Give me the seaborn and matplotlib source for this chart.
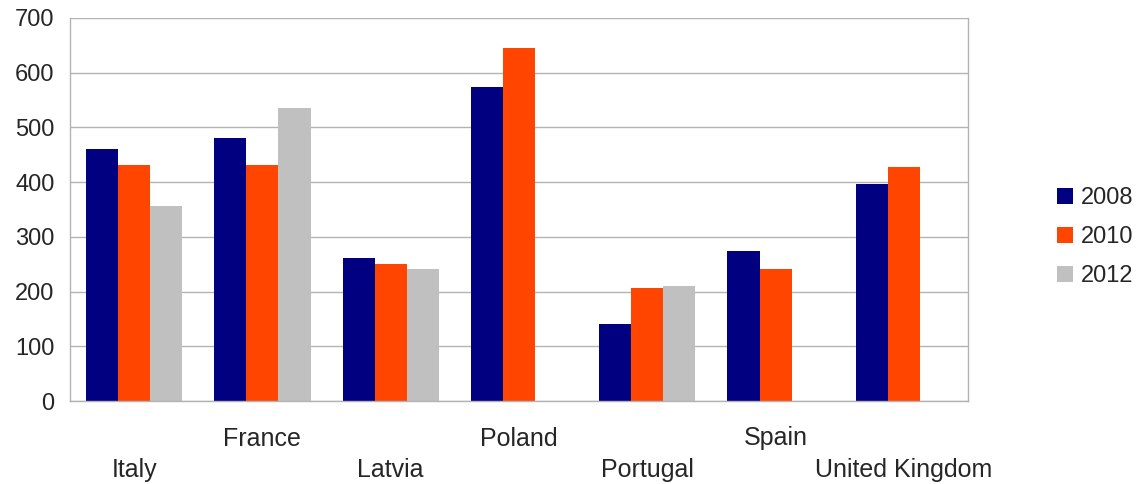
import pandas as pd
import matplotlib
matplotlib.use("Agg")
import matplotlib.pyplot as plt
import seaborn as sns
import numpy as np

countries = ["Italy", "France", "Latvia", "Poland", "Portugal", "Spain", "United Kingdom"]
years = ["2008", "2010", "2012"]
v2008 = [461, 481, 262, 573, 140, 275, 396]
v2010 = [432, 432, 251, 646, 207, 242, 427]
v2012 = [357, 536, 242, np.nan, 211, np.nan, np.nan]

colors = ["#000080", "#FF4500", "#C0C0C0"]
grid_col = "#b3b3b3"

df = pd.DataFrame({"country": countries, "2008": v2008, "2010": v2010, "2012": v2012})
df = df.melt(id_vars="country", var_name="year", value_name="value")

sns.set_style("white")
plt.rcParams['font.family'] = ['Liberation Sans', 'DejaVu Sans']

fig = plt.figure(figsize=(11.42, 4.84), dpi=100)
ax = fig.add_axes([70 / 1142, 83 / 484, 898 / 1142, 383 / 484])

sns.barplot(data=df, x="country", y="value", hue="year", order=countries,
            hue_order=years, palette=colors, width=0.75, saturation=1,
            edgecolor="none", linewidth=0, ax=ax, legend=True)

ax.set_xlim(-0.5, len(countries) - 0.5)
ax.set_ylim(0, 700)
ax.set_yticks(range(0, 701, 100))
ax.yaxis.grid(True, color=grid_col, linewidth=1)
ax.set_axisbelow(True)
for s in ax.spines.values():
    s.set_color(grid_col)
    s.set_linewidth(1)
ax.spines["top"].set_visible(False)
ax.tick_params(axis="y", length=8, width=1, color=grid_col, labelsize=17, pad=3)
ax.set_xlabel("")
ax.set_ylabel("")

# boundary tick marks, staggered labels
ax.set_xticks(np.arange(-0.5, len(countries), 1.0))
ax.set_xticklabels([])
ax.tick_params(axis="x", length=10, width=1, color=grid_col)
for i, c in enumerate(countries):
    dy = -50 if i % 2 == 0 else -27
    ax.annotate(c, xy=(i, 0), xycoords=("data", "axes fraction"),
                xytext=(0, dy), textcoords="offset points",
                ha="center", va="center", fontsize=18)

handles, labels = ax.get_legend_handles_labels()
ax.legend(handles, labels, loc="center left", bbox_to_anchor=(1.099, 0.428),
          frameon=False, fontsize=17, borderpad=0, borderaxespad=0,
          handlelength=0.68, handleheight=0.68,
          handletextpad=0.34, labelspacing=0.72)

fig.savefig("out.png", dpi=100)
